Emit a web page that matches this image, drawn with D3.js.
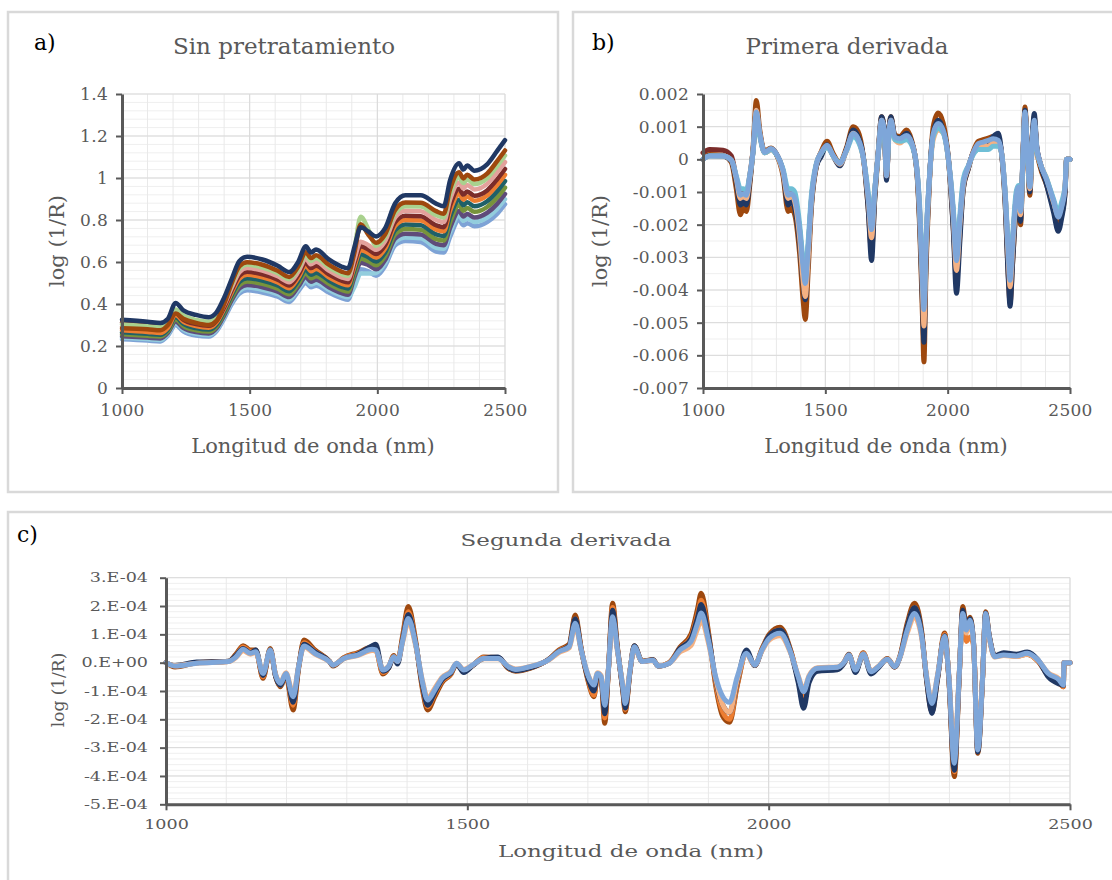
<!DOCTYPE html>
<html>
<head>
<meta charset="utf-8">
<script src="https://cdn.jsdelivr.net/npm/d3@7"></script>
<style>
  body { margin: 0; background: #fff; }
  svg { display: block; }
  text { font-family: "DejaVu Serif", serif; }
</style>
</head>
<body>
<svg id="chart" width="1112" height="880"></svg>
<script>
// ---------- shared axis data ----------
const xTicks = [1000, 1500, 2000, 2500];

// ---------- a) raw spectra, log(1/R) ----------
const yTicksA = [0, 0.2, 0.4, 0.6, 0.8, 1, 1.2, 1.4];
const wlA = [1000,1100,1150,1180,1210,1240,1290,1340,1370,1400,
             1430,1460,1490,1550,1610,1655,1690,1720,1740,1760,
             1810,1860,1885,1910,1935,1965,1995,2030,2070,2110,
             2170,2230,2260,2285,2320,2337,2352,2380,2430,2470,
             2500];
const rawLightBlue = [.232,.226,.222,.250,.300,.270,.250,.245,.270,.330,
                      .400,.450,.465,.455,.435,.410,.460,.500,.480,.487,
                      .455,.428,.420,.500,.565,.555,.535,.580,.680,.700,
                      .695,.650,.645,.720,.800,.775,.785,.770,.790,.830,
                      .875];
const rawCyan = [.239,.233,.229,.256,.308,.278,.258,.252,.277,.338,
                 .410,.462,.478,.468,.447,.421,.471,.514,.493,.501,
                 .468,.440,.432,.480,.545,.545,.548,.594,.696,.717,
                 .713,.668,.663,.742,.822,.796,.807,.791,.812,.854,
                 .899];
const rawPurple = [.247,.240,.236,.263,.317,.286,.266,.260,.284,.346,
                   .419,.475,.491,.480,.459,.433,.482,.528,.506,.515,
                   .480,.452,.444,.527,.597,.585,.565,.609,.712,.735,
                   .731,.686,.680,.763,.843,.817,.829,.812,.834,.878,
                   .924];
const rawGreen = [.256,.249,.245,.271,.327,.296,.275,.269,.293,.356,
                  .431,.490,.507,.496,.473,.447,.496,.546,.523,.532,
                  .496,.467,.459,.544,.617,.604,.584,.627,.732,.757,
                  .753,.709,.702,.790,.870,.844,.857,.839,.862,.908,
                  .954];
const rawTeal = [.265,.258,.254,.279,.338,.306,.285,.278,.302,.366,
                 .443,.506,.523,.512,.488,.461,.510,.563,.539,.549,
                 .512,.482,.474,.561,.637,.623,.602,.645,.752,.778,
                 .775,.732,.724,.817,.897,.870,.884,.865,.889,.938,
                 .985];
const rawOrange = [.275,.267,.262,.287,.348,.316,.295,.287,.311,.376,
                   .455,.521,.539,.527,.503,.475,.524,.581,.556,.567,
                   .527,.497,.489,.578,.657,.642,.621,.663,.772,.800,
                   .798,.755,.746,.844,.924,.897,.912,.892,.917,.968,
                   1.015];
const rawDarkRed = [.311,.303,.297,.318,.358,.325,.304,.296,.320,.385,
                    .466,.535,.553,.541,.516,.488,.537,.596,.571,.582,
                    .541,.511,.503,.594,.675,.660,.638,.679,.790,.820,
                    .818,.775,.766,.869,.949,.921,.936,.916,.941,.995,
                    1.043];
const rawSalmon = [.293,.285,.280,.303,.369,.336,.315,.306,.329,.396,
                   .479,.552,.571,.559,.532,.504,.552,.616,.589,.601,
                   .559,.527,.519,.612,.697,.680,.658,.699,.812,.844,
                   .842,.800,.790,.898,.978,.950,.967,.945,.972,1.028,
                   1.076];
const rawLime = [.303,.294,.289,.311,.374,.346,.324,.315,.338,.406,
                 .491,.568,.587,.574,.547,.518,.566,.633,.605,.618,
                 .574,.542,.534,.660,.815,.755,.677,.717,.832,.866,
                 .864,.823,.812,.925,1.005,.976,.994,.971,.999,1.058,
                 1.107];
const rawBrown = [.285,.280,.275,.300,.355,.330,.310,.300,.320,.400,
                  .501,.580,.599,.587,.558,.529,.578,.647,.619,.632,
                  .587,.554,.546,.643,.780,.730,.692,.731,.848,.883,
                  .882,.842,.830,.947,1.027,.998,1.016,.993,1.021,1.082,
                  1.131];
const rawNavy = [.325,.316,.310,.330,.405,.370,.348,.337,.360,.430,
                 .520,.605,.625,.612,.582,.552,.600,.675,.645,.660,
                 .612,.578,.570,.670,.765,.745,.722,.760,.880,.918,
                 .918,.878,.865,.990,1.070,1.040,1.060,1.035,1.065,1.130,
                 1.180];

// ---------- b) first derivative ----------
const yTicksB = [0.002, 0.001, 0, -0.001, -0.002, -0.003, -0.004, -0.005, -0.006, -0.007];
const wlB = [1000,1027,1082,1116,1136,1153,1164,1177,1191,1205,
             1218,1232,1252,1278,1300,1327,1348,1361,1375,1395,
             1409,1418,1430,1443,1464,1484,1507,1532,1559,1586,
             1614,1634,1655,1675,1689,1702,1716,1730,1741,1750,
             1760,1768,1784,1805,1832,1852,1873,1886,1897,1903,
             1911,1925,1941,1961,1982,2002,2023,2036,2050,2064,
             2084,2105,2125,2145,2166,2186,2207,2220,2234,2248,
             2255,2266,2280,2289,2298,2309,2316,2325,2336,2346,
             2354,2364,2377,2405,2432,2452,2466,2480,2486,2500];
const d1DarkRed = [0.0002,0.0003,0.00028,0.0001,-0.0006,-0.0012,-0.001,-0.0011,-0.0005,0.0003,
                   0.00145,0.00079,0.00022,0.00033,0.00017,-0.00034,-0.0011,-0.00105,-0.0012,-0.00217,
                   -0.0033,-0.0038,-0.0027,-0.00125,-0.00013,0.00022,0.00043,0.00012,-0.00013,0.00028,
                   0.00079,0.00063,0.00007,-0.00115,-0.00215,-0.00095,0.00017,0.0012,0.00089,-0.0005,
                   0.00079,0.0012,0.00068,0.00063,0.00073,0.00053,-0.00023,-0.00166,-0.0037,-0.0046,
                   -0.0027,-0.00064,0.00079,0.0011,0.00089,0.00007,-0.00166,-0.0031,-0.00187,-0.00074,
                   -0.00023,0.00022,0.00048,0.00053,0.00058,0.00063,0.00058,0.00022,-0.00095,-0.0029,
                   -0.0037,-0.0025,-0.00115,-0.00085,-0.0016,0.00038,0.00145,0.00038,-0.00085,0.00058,
                   0.0012,0.00038,-0.00008,-0.00064,-0.00126,-0.00177,-0.00146,-0.00085,0,0];
const d1Brown = [0,0.00015,0.00012,-0.0001,-0.0009,-0.0017,-0.0015,-0.0016,-0.0008,0.0004,
                 0.0018,0.0009,0.00025,0.00035,0.00015,-0.0005,-0.0016,-0.0015,-0.0017,-0.0029,
                 -0.0043,-0.0049,-0.0034,-0.0015,-0.0002,0.00025,0.00055,0.00018,-0.0001,0.00035,
                 0.001,0.00085,0.0001,-0.0015,-0.0028,-0.0012,0.0002,0.0013,0.0009,-0.0006,
                 0.0009,0.0013,0.00075,0.0007,0.0009,0.0006,-0.0003,-0.0022,-0.0048,-0.0062,
                 -0.0036,-0.0008,0.001,0.00142,0.0011,0.0001,-0.0021,-0.0037,-0.0023,-0.0009,
                 -0.0003,0.00025,0.00055,0.0006,0.00065,0.0007,0.00065,0.0002,-0.0012,-0.0036,
                 -0.0044,-0.0031,-0.0015,-0.0011,-0.002,0.0004,0.0016,0.0004,-0.0011,0.0006,
                 0.0013,0.0003,-0.0002,-0.0008,-0.0015,-0.00205,-0.0017,-0.001,0,0];
const d1Navy = [0,0.00012,0.0001,-0.00005,-0.0007,-0.0014,-0.0013,-0.0014,-0.0007,0.0003,
                0.0015,0.0008,0.0002,0.0003,0.00015,-0.0004,-0.0014,-0.0013,-0.0015,-0.0026,
                -0.0038,-0.0043,-0.003,-0.0014,-0.0002,0.0001,0.00045,0.0001,-0.0002,0.0003,
                0.0009,0.0007,0.0001,-0.0015,-0.0031,-0.0012,0.0002,0.0013,0.0009,-0.00064,
                0.0009,0.0013,0.0007,0.00065,0.0008,0.00055,-0.0003,-0.002,-0.0044,-0.0056,
                -0.0033,-0.0007,0.0008,0.0012,0.0009,0.0001,-0.0022,-0.0041,-0.0025,-0.0009,
                -0.0003,0.0002,0.0003,0.0003,0.0005,0.0007,0.0008,0.0002,-0.0012,-0.0037,
                -0.0045,-0.0031,-0.0014,-0.001,-0.0019,0.0004,0.0015,0.0004,-0.001,0.0007,
                0.0014,0.0004,-0.0001,-0.0008,-0.0016,-0.0022,-0.0018,-0.001,0,0];
const d1Peach = [0,0.0001,0.0001,-0.00003,-0.0006,-0.0012,-0.0011,-0.0012,-0.0006,0.0003,
                 0.0015,0.0008,0.0002,0.0003,0.00015,-0.0004,-0.0012,-0.0011,-0.0013,-0.0024,
                 -0.0037,-0.0042,-0.003,-0.0013,-0.00015,0.0002,0.0004,0.0001,-0.00015,0.00025,
                 0.0008,0.0006,0.00005,-0.0012,-0.0024,-0.001,0.00015,0.0012,0.0008,-0.0005,
                 0.0008,0.0012,0.0006,0.0005,0.00065,0.0005,-0.00025,-0.0018,-0.004,-0.0051,
                 -0.003,-0.0007,0.0006,0.0009,0.0008,0.00005,-0.0018,-0.0034,-0.002,-0.0008,
                 -0.00025,0.0002,0.0004,0.00045,0.0004,0.0005,0.0005,0.0002,-0.001,-0.0031,
                 -0.0039,-0.0027,-0.0012,-0.0009,-0.0017,0.0003,0.0014,0.0003,-0.0009,0.0005,
                 0.0011,0.0003,-0.0001,-0.0006,-0.0013,-0.0017,-0.0014,-0.0008,0,0];
const d1Cyan = [0,0.0001,0.0001,-0.00002,-0.0005,-0.0009,-0.0009,-0.00095,-0.0005,0.00025,
                0.0013,0.0007,0.0002,0.0003,0.00015,-0.0003,-0.0009,-0.0009,-0.001,-0.002,
                -0.0031,-0.0036,-0.0025,-0.0011,-0.0001,0.0002,0.00038,0.0001,-0.0001,0.00025,
                0.0007,0.00055,0.00005,-0.001,-0.002,-0.0009,0.00015,0.0011,0.0008,-0.0004,
                0.0007,0.0011,0.0006,0.00055,0.0006,0.00045,-0.0002,-0.0015,-0.0035,-0.0044,
                -0.0025,-0.0006,0.0007,0.00095,0.0008,0.00005,-0.0015,-0.0029,-0.0017,-0.0006,
                -0.0002,0.00015,0.0003,0.0003,0.0003,0.0004,0.0004,0.0002,-0.0009,-0.0027,
                -0.0034,-0.0023,-0.001,-0.0008,-0.0015,0.0003,0.0013,0.0003,-0.0008,0.0005,
                0.0011,0.0003,-0.0001,-0.0006,-0.0012,-0.0016,-0.0013,-0.0008,0,0];
const d1LightBlue = [0,0.0001,0.0001,-0.00003,-0.00054,-0.0011,-0.00105,-0.0011,-0.00054,0.00028,
                     0.00145,0.00079,0.00022,0.00033,0.00017,-0.00034,-0.0011,-0.00105,-0.0012,-0.00217,
                     -0.0033,-0.0038,-0.0027,-0.00125,-0.00013,0.00022,0.00043,0.00012,-0.00013,0.00028,
                     0.00079,0.00063,0.00007,-0.00115,-0.00215,-0.00095,0.00017,0.0012,0.00089,-0.0005,
                     0.00079,0.0012,0.00068,0.00063,0.00073,0.00053,-0.00023,-0.00166,-0.0037,-0.0046,
                     -0.0027,-0.00064,0.00079,0.0011,0.00089,0.00007,-0.00166,-0.0031,-0.00187,-0.00074,
                     -0.00023,0.00022,0.00048,0.00053,0.00058,0.00063,0.00058,0.00022,-0.00095,-0.0029,
                     -0.0037,-0.0025,-0.00115,-0.00085,-0.0016,0.00038,0.00145,0.00038,-0.00085,0.00058,
                     0.0012,0.00038,-0.00008,-0.00064,-0.00126,-0.00177,-0.00146,-0.00085,0,0];

// ---------- c) second derivative (values in units of 1E-04) ----------
const yTicksC = [3, 2, 1, 0, -1, -2, -3, -4, -5];
const wlC = [1000,1015,1051,1104,1116,1128,1140,1149,1161,1173,
             1182,1190,1199,1211,1220,1229,1247,1271,1277,1295,
             1318,1342,1348,1360,1369,1378,1384,1393,1402,1414,
             1426,1434,1446,1458,1473,1482,1494,1509,1527,1551,
             1568,1580,1604,1634,1652,1669,1679,1689,1701,1710,
             1716,1722,1728,1734,1741,1749,1758,1762,1770,1777,
             1790,1808,1817,1835,1853,1871,1882,1888,1900,1912,
             1924,1935,1948,1963,1977,1989,2001,2019,2037,2049,
             2058,2067,2081,2114,2126,2133,2144,2157,2170,2182,
             2197,2209,2218,2230,2242,2254,2262,2271,2280,2292,
             2299,2308,2316,2322,2328,2334,2340,2347,2355,2360,
             2366,2375,2390,2411,2429,2447,2464,2482,2489,2490,
             2500];
const d2Brown = [0,-0.15,0,0.05,0.3,0.6,0.45,0.45,-0.55,0.5,
                 -0.5,-0.85,-0.45,-1.67,-0.2,0.8,0.45,0.05,-0.12,0.18,
                 0.35,0.55,0.5,-0.4,-0.2,0.25,0,1.0,1.98,0.8,
                 -1.0,-1.67,-1.2,-0.7,-0.4,-0.05,-0.3,-0.1,0.2,0.18,
                 -0.2,-0.3,-0.2,0.1,0.45,0.65,1.68,0.5,-0.7,-1.2,
                 -0.5,-0.6,-2.14,-0.3,2.1,0.55,-1.0,-1.73,-0.3,0.6,
                 0.05,0.1,-0.12,0,0.55,1.0,1.9,2.45,1.1,-0.8,
                 -1.9,-2.1,-0.8,0.35,-0.1,0.5,1.0,1.25,0.4,-0.6,
                 -1.3,-0.6,-0.25,-0.2,0.05,0.3,-0.3,0.35,-0.35,-0.15,
                 0.15,-0.15,0.25,1.4,2.1,1.1,-0.6,-1.75,-0.6,1.05,
                 -0.6,-4.02,-0.6,1.98,1.3,1.6,0.7,-3.2,-0.55,1.8,
                 0.95,0.25,0.3,0.25,0.3,0.05,-0.45,-0.7,-0.85,0,
                 0];
const d2Orange = [0,-0.12,0,0.04,0.25,0.55,0.4,0.4,-0.5,0.45,
                  -0.45,-0.8,-0.45,-1.5,-0.18,0.7,0.4,0.05,-0.1,0.17,
                  0.32,0.5,0.45,-0.35,-0.18,0.22,0.02,0.9,1.8,0.75,
                  -0.9,-1.55,-1.1,-0.65,-0.38,-0.05,-0.28,-0.1,0.18,0.17,
                  -0.18,-0.28,-0.18,0.1,0.42,0.6,1.55,0.48,-0.65,-1.15,
                  -0.5,-0.58,-1.95,-0.3,1.95,0.5,-0.95,-1.65,-0.3,0.58,
                  0.05,0.1,-0.12,0,0.5,0.9,1.7,2.2,1.0,-0.7,
                  -1.75,-2.0,-0.75,0.33,-0.1,0.48,0.95,1.15,0.38,-0.55,
                  -1.15,-0.55,-0.22,-0.18,0.04,0.28,-0.28,0.33,-0.33,-0.15,
                  0.13,-0.15,0.22,1.3,1.95,1.0,-0.55,-1.6,-0.55,1.0,
                  -0.55,-3.85,-0.55,1.7,0.75,0.9,0.6,-3.1,-0.5,1.75,
                  0.93,0.22,0.28,0.22,0.3,0.05,-0.45,-0.72,-0.85,0,
                  0];
const d2Navy = [0,-0.1,0.02,0.05,0.25,0.5,0.35,0.45,-0.45,0.45,
                -0.5,-0.8,-0.4,-1.4,-0.15,0.65,0.38,0.05,-0.1,0.15,
                0.3,0.6,0.65,-0.3,-0.2,0.2,-0.05,0.85,1.7,0.7,
                -0.85,-1.5,-1.05,-0.6,-0.35,-0.05,-0.35,-0.1,0.15,0.2,
                -0.18,-0.28,-0.18,0.1,0.4,0.6,1.55,0.45,-0.6,-1.0,
                -0.45,-0.55,-1.8,-0.28,1.85,0.5,-0.95,-1.6,-0.28,0.6,
                0.04,0.1,-0.12,-0.02,0.5,0.85,1.6,2.05,0.95,-0.6,
                -1.5,-1.75,-0.65,0.45,-0.1,0.45,0.95,1.15,0.35,-0.7,
                -1.61,-0.7,-0.3,-0.25,0,0.28,-0.35,0.3,-0.4,-0.18,
                0.12,-0.15,0.2,1.3,1.95,1.0,-0.6,-1.79,-0.6,0.95,
                -0.55,-3.8,-0.55,1.85,1.25,1.55,0.7,-3.15,-0.5,1.75,
                0.95,0.25,0.35,0.3,0.38,0.1,-0.5,-0.75,-0.8,0,
                0];
const d2Peach = [0,-0.1,-0.02,0.04,0.18,0.42,0.3,0.36,-0.35,0.42,
                 -0.42,-0.7,-0.36,-1.1,-0.13,0.55,0.3,0.04,-0.08,0.14,
                 0.25,0.43,0.42,-0.24,-0.13,0.19,0.04,0.75,1.45,0.63,
                 -0.68,-1.25,-0.9,-0.52,-0.3,-0.02,-0.24,-0.08,0.14,0.14,
                 -0.13,-0.22,-0.13,0.08,0.36,0.52,1.3,0.42,-0.46,-0.75,
                 -0.36,-0.46,-1.4,-0.24,1.5,0.42,-0.8,-1.35,-0.24,0.52,
                 0.04,0.08,-0.11,-0.02,0.38,0.6,1.2,1.5,0.7,-0.55,
                 -1.5,-1.75,-0.6,0.3,-0.08,0.42,0.8,0.95,0.3,-0.46,
                 -0.95,-0.46,-0.18,-0.15,0.04,0.25,-0.24,0.29,-0.3,-0.13,
                 0.11,-0.13,0.2,1.05,1.6,0.85,-0.46,-1.35,-0.46,0.86,
                 -0.46,-3.3,-0.46,1.6,1.05,1.4,0.63,-2.9,-0.46,1.6,
                 0.86,0.2,0.25,0.22,0.3,0.08,-0.36,-0.57,-0.74,0,
                 0];
const d2LightBlue = [0,-0.12,-0.02,0.04,0.2,0.47,0.33,0.39,-0.38,0.45,
                     -0.44,-0.73,-0.38,-1.2,-0.14,0.59,0.33,0.04,-0.08,0.15,
                     0.27,0.47,0.45,-0.26,-0.14,0.21,0.04,0.8,1.56,0.68,
                     -0.73,-1.32,-0.96,-0.55,-0.32,-0.02,-0.26,-0.08,0.15,0.15,
                     -0.14,-0.24,-0.14,0.09,0.39,0.56,1.39,0.45,-0.49,-0.79,
                     -0.38,-0.49,-1.5,-0.26,1.62,0.45,-0.85,-1.44,-0.26,0.56,
                     0.04,0.09,-0.12,-0.02,0.45,0.74,1.39,1.75,0.8,-0.49,
                     -1.2,-1.4,-0.49,0.33,-0.08,0.45,0.86,1.04,0.33,-0.49,
                     -1.02,-0.49,-0.2,-0.16,0.04,0.27,-0.26,0.31,-0.32,-0.14,
                     0.12,-0.14,0.21,1.15,1.74,0.92,-0.49,-1.44,-0.49,0.92,
                     -0.49,-3.55,-0.49,1.74,1.15,1.5,0.68,-3.08,-0.49,1.74,
                     0.92,0.21,0.27,0.24,0.33,0.09,-0.38,-0.61,-0.79,0,
                     0];

// ---------- drawing ----------
const svg = d3.select("#chart");
const AXIS = "#595959", TEXT = "#595959", GRID_MAJOR = "#d9d9d9", GRID_MINOR = "#efefef";

function stretchText(sel, k) {
  sel.each(function () {
    const len = this.getComputedTextLength();
    d3.select(this).attr("textLength", len * k).attr("lengthAdjust", "spacingAndGlyphs");
  });
}

function drawPanel(c) {
  const g = svg.append("g");
  g.append("rect")
    .attr("x", c.box[0]).attr("y", c.box[1]).attr("width", c.box[2]).attr("height", c.box[3])
    .attr("fill", "#fff").attr("stroke", "#d9d9d9").attr("stroke-width", 2.5);

  const x = d3.scaleLinear().domain([1000, 2500]).range([c.px0, c.px1]);
  const y = d3.scaleLinear().domain(c.yDomain).range([c.py1, c.py0]);

  // gridlines
  const nMinor = Math.round((c.yDomain[1] - c.yDomain[0]) / c.yMinor);
  const minorY = d3.range(nMinor + 1).map(i => c.yDomain[0] + i * c.yMinor);
  const minorX = d3.range(1000, 2501, 100);
  const grid = g.append("g");
  grid.selectAll(".hm").data(minorY).join("line")
    .attr("x1", c.px0).attr("x2", c.px1).attr("y1", d => y(d)).attr("y2", d => y(d))
    .attr("stroke", GRID_MINOR).attr("stroke-width", 1);
  grid.selectAll(".vm").data(minorX).join("line")
    .attr("y1", c.py0).attr("y2", c.py1).attr("x1", d => x(d)).attr("x2", d => x(d))
    .attr("stroke", "#e9e9e9").attr("stroke-width", 1);
  grid.selectAll(".hM").data(c.yTicks).join("line")
    .attr("x1", c.px0).attr("x2", c.px1).attr("y1", d => y(d)).attr("y2", d => y(d))
    .attr("stroke", GRID_MAJOR).attr("stroke-width", 1);
  grid.selectAll(".vM").data(xTicks).join("line")
    .attr("y1", c.py0).attr("y2", c.py1).attr("x1", d => x(d)).attr("x2", d => x(d))
    .attr("stroke", GRID_MAJOR).attr("stroke-width", 1);

  // spectra
  const line = d3.line().x(d => x(d[0])).y(d => y(d[1])).curve(d3.curveMonotoneX);
  c.series.forEach(s => {
    g.append("path")
      .datum(d3.zip(c.wl, s.values))
      .attr("d", line)
      .attr("fill", "none")
      .attr("stroke", s.color)
      .attr("stroke-width", s.width)
      .attr("stroke-linejoin", "round")
      .attr("stroke-linecap", "round");
  });

  // axes
  const yAxis = g.append("g").attr("transform", `translate(${c.px0},0)`)
    .call(d3.axisLeft(y).tickValues(c.yTicks).tickFormat(c.yFormat)
      .tickSize(6).tickSizeOuter(0).tickPadding(c.yPad));
  const xAxis = g.append("g").attr("transform", `translate(0,${c.py1})`)
    .call(d3.axisBottom(x).tickValues(xTicks).tickFormat(d => d)
      .tickSize(6).tickSizeOuter(0).tickPadding(c.xPad));
  [yAxis, xAxis].forEach(ax => {
    ax.attr("font-family", null).attr("font-size", null);
    ax.select(".domain").attr("stroke", AXIS).attr("stroke-width", 3);
    ax.selectAll(".tick line").attr("stroke", AXIS).attr("stroke-width", 2);
    ax.selectAll(".tick text").attr("fill", TEXT)
      .style("font-size", c.tickSize + "px").style("letter-spacing", c.tickSpacing + "px");
  });

  // titles and labels
  const title = g.append("text").attr("x", c.titleX).attr("y", c.titleY)
    .attr("text-anchor", "middle").attr("fill", TEXT)
    .style("font-size", c.titleSize + "px").text(c.title);
  g.append("text").attr("x", c.tagX).attr("y", c.tagY).attr("fill", "#000")
    .style("font-size", "22px").text(c.tag);
  const xl = g.append("text").attr("x", c.xlX).attr("y", c.xlY)
    .attr("text-anchor", "middle").attr("fill", TEXT)
    .style("font-size", c.labelSize + "px").text("Longitud de onda (nm)");
  g.append("text")
    .attr("transform", `translate(${c.ylX},${c.ylY}) rotate(-90)`)
    .attr("text-anchor", "middle").attr("dy", "0.35em").attr("fill", TEXT)
    .style("font-size", c.ylSize + "px").text("log (1/R)");

  if (c.stretch) {
    stretchText(title, c.stretch);
    stretchText(xl, c.stretch);
    stretchText(yAxis.selectAll(".tick text"), c.stretch);
    stretchText(xAxis.selectAll(".tick text"), c.stretch);
  }
}

drawPanel({
  box: [8, 12, 550, 480], px0: 122, px1: 505, py0: 94, py1: 388,
  yDomain: [0, 1.4], yTicks: yTicksA, yMinor: 0.04,
  yFormat: d => String(+d.toFixed(1)), yPad: 8, xPad: 10,
  tickSize: 17, tickSpacing: 0.3,
  title: "Sin pretratamiento", titleX: 284, titleY: 54, titleSize: 23,
  tag: "a)", tagX: 34, tagY: 50,
  xlX: 313, xlY: 453, labelSize: 21, ylX: 57, ylY: 241, ylSize: 21,
  wl: wlA,
  series: [
    { values: rawLightBlue, color: "#7ea3d6", width: 4.5 },
    { values: rawCyan, color: "#93cddd", width: 4.5 },
    { values: rawPurple, color: "#5f4b7a", width: 4.5 },
    { values: rawGreen, color: "#77933c", width: 4.5 },
    { values: rawTeal, color: "#1f6068", width: 4.5 },
    { values: rawOrange, color: "#ed7d31", width: 4.5 },
    { values: rawDarkRed, color: "#7b2c2a", width: 4.5 },
    { values: rawSalmon, color: "#e3a19c", width: 4.5 },
    { values: rawLime, color: "#a9d18e", width: 4.5 },
    { values: rawBrown, color: "#9e480e", width: 4.5 },
    { values: rawNavy, color: "#203864", width: 4.5 }
  ]
});

drawPanel({
  box: [573, 12, 548, 480], px0: 703, px1: 1070, py0: 94, py1: 388,
  yDomain: [-0.007, 0.002], yTicks: yTicksB, yMinor: 0.0005,
  yFormat: d => (d === 0 ? "0" : d.toFixed(3)), yPad: 8, xPad: 10,
  tickSize: 17, tickSpacing: 0.3,
  title: "Primera derivada", titleX: 847, titleY: 54, titleSize: 23,
  tag: "b)", tagX: 592, tagY: 50,
  xlX: 886, xlY: 453, labelSize: 21, ylX: 600, ylY: 241, ylSize: 21,
  wl: wlB,
  series: [
    { values: d1DarkRed, color: "#7b2c2a", width: 5 },
    { values: d1Brown, color: "#9e480e", width: 5 },
    { values: d1Navy, color: "#203864", width: 5 },
    { values: d1Peach, color: "#f4b183", width: 5 },
    { values: d1Cyan, color: "#6fbfd6", width: 5 },
    { values: d1LightBlue, color: "#7ea6d9", width: 5 }
  ]
});

drawPanel({
  box: [8, 512, 1116, 380], px0: 166, px1: 1070, py0: 577.7, py1: 804.3,
  yDomain: [-5, 3], yTicks: yTicksC, yMinor: 0.2,
  yFormat: d => `${d}.E${d === 0 ? "+00" : "-04"}`, yPad: 12, xPad: 9,
  tickSize: 13, tickSpacing: 0, stretch: 1.35,
  title: "Segunda derivada", titleX: 566, titleY: 546, titleSize: 17,
  tag: "c)", tagX: 17, tagY: 542,
  xlX: 631, xlY: 857, labelSize: 17, ylX: 58, ylY: 690, ylSize: 17,
  wl: wlC,
  series: [
    { values: d2Brown, color: "#9e480e", width: 5 },
    { values: d2Orange, color: "#ed7d31", width: 5 },
    { values: d2Navy, color: "#203864", width: 5 },
    { values: d2Peach, color: "#f4b183", width: 5 },
    { values: d2LightBlue, color: "#7ea6d9", width: 5 }
  ]
});
</script>
</body>
</html>
